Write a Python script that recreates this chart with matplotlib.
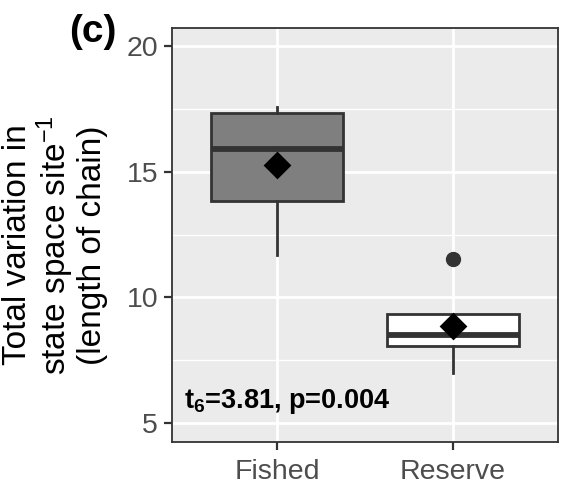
import matplotlib
matplotlib.use("Agg")
import matplotlib.pyplot as plt

plt.rcParams['font.family'] = ['Liberation Sans', 'DejaVu Sans']
plt.rcParams['mathtext.fontset'] = 'custom'
plt.rcParams['mathtext.rm'] = 'Liberation Sans'
plt.rcParams['mathtext.bf'] = 'Liberation Sans:bold'
plt.rcParams['mathtext.it'] = 'Liberation Sans:italic'

# Summary statistics per management category
categories = ["Fished", "Reserve"]
q1 = [13.85, 8.05]
median = [15.92, 8.50]
q3 = [17.35, 9.34]
whisker_low = [11.70, 6.99]
whisker_high = [17.57, 9.34]
means = [15.29, 8.87]
outliers = [[], [11.53]]
fills = ["#7f7f7f", "#ffffff"]

y_ticks = [5, 10, 15, 20]
y_minor = [7.5, 12.5, 17.5]
stat_label = r"t$_{\mathbf{6}}$=3.81, p=0.004"

fig = plt.figure(figsize=(5.64, 4.90), dpi=100)
ax = fig.add_axes([172 / 564, 1 - 442 / 490, 386 / 564, 414 / 490])
ax.set_facecolor("#ebebeb")

xs = [1, 2]
ax.set_xlim(0.4, 2.6)
ax.set_ylim(4.24, 20.73)

# grid
for y in y_minor:
    ax.axhline(y, color="white", lw=1.0, zorder=0.5)
for y in y_ticks:
    ax.axhline(y, color="white", lw=2.0, zorder=0.6)
for x in xs:
    ax.axvline(x, color="white", lw=2.0, zorder=0.6)

stats = []
for i in range(len(categories)):
    stats.append(dict(med=median[i], q1=q1[i], q3=q3[i],
                      whislo=whisker_low[i], whishi=whisker_high[i],
                      fliers=outliers[i], label=categories[i]))

edge = "#333333"
bp = ax.bxp(stats, positions=xs, widths=0.75, patch_artist=True,
            showcaps=False, showfliers=True,
            boxprops=dict(edgecolor=edge, linewidth=2.0),
            medianprops=dict(color=edge, linewidth=4.2, solid_capstyle="butt"),
            whiskerprops=dict(color=edge, linewidth=2.0),
            flierprops=dict(marker="o", markerfacecolor=edge, markeredgecolor=edge,
                            markersize=10))
for patch, fc in zip(bp["boxes"], fills):
    patch.set_facecolor(fc)
    patch.set_zorder(2)
for art in bp["medians"] + bp["whiskers"]:
    art.set_zorder(2.5)

ax.scatter(xs, means, marker="D", s=200, color="black", zorder=4, linewidths=0)

ax.set_yticks(y_ticks)
ax.set_xticks(xs)
ax.set_xticklabels(categories)
ax.tick_params(axis="both", colors="#333333", length=6, width=1.6,
               labelsize=20.5, labelcolor="#4d4d4d")
ax.tick_params(axis="x", pad=6)
ax.tick_params(axis="y", pad=4)
for s in ax.spines.values():
    s.set_color("#333333")
    s.set_linewidth(1.3)

ax.text(0.47, 5.85, stat_label, fontsize=19.5, fontweight="bold",
        ha="left", va="center", color="black")

# three-line y-axis title
lines = ["Total variation in", r"state space site$^{\mathregular{-1}}$", "(length of chain)"]
xpos = [18, 55, 93]
for t, xp in zip(lines, xpos):
    fig.text(xp / 564, 1 - 245 / 490, t, rotation=90, ha="center", va="center",
             fontsize=24, color="black")

fig.text(93 / 564, 1 - 32 / 490, "(c)", fontsize=28, fontweight="bold",
         ha="center", va="center")

fig.savefig("out.png", dpi=100)
